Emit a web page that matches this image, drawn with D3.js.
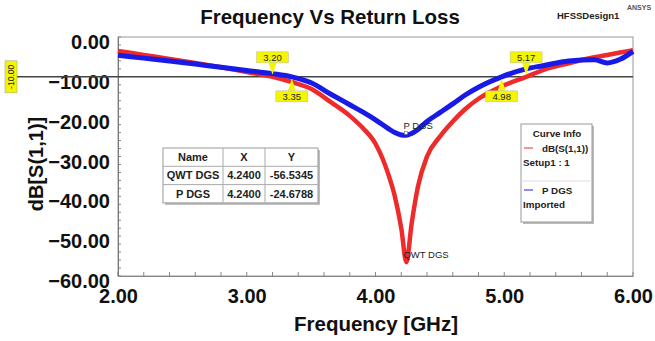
<!DOCTYPE html>
<html>
<head>
<meta charset="utf-8">
<script src="https://cdn.jsdelivr.net/npm/d3@7"></script>
<style>
  body { margin: 0; background: #fff; }
  svg { display: block; font-family: "Liberation Sans", Arial, sans-serif; }
</style>
</head>
<body>
<svg id="chart" width="655" height="341"></svg>
<script>
// Frequency vs return loss, two measured curves

// ----- Data -----
const freqGHz = [2.0, 2.2, 2.4, 2.6, 2.8, 3.0, 3.2, 3.35, 3.5, 3.65, 3.8, 3.9, 4.0, 4.1, 4.15, 4.2,
  4.24, 4.28, 4.33, 4.4, 4.5, 4.6, 4.7, 4.8, 4.98, 5.17, 5.3, 5.5, 5.7, 5.8, 5.9, 6.0];
const qwtDgs = [-3.5, -4.5, -5.5, -6.5, -7.6, -8.8, -10.0, -11.3, -13.0, -16.3, -19.8, -22.8, -26.8, -34.5, -40.0, -48.0,
  -56.53, -47.0, -37.5, -30.0, -25.0, -21.2, -18.0, -15.5, -12.4, -10.0, -8.3, -6.6, -5.1, -4.5, -3.9, -3.3];
const pDgs = [-4.6, -5.3, -6.0, -6.8, -7.6, -8.4, -9.2, -10.0, -11.5, -14.3, -17.0, -18.8, -20.8, -23.0, -24.0, -24.6,
  -24.68, -24.2, -23.2, -21.2, -19.0, -16.8, -14.5, -12.6, -10.0, -8.0, -7.2, -6.0, -5.7, -6.5, -5.6, -3.6];

const xTicks = [2, 3, 4, 5, 6];
const yTicks = [0, -10, -20, -30, -40, -50, -60];
const refLevel = -10;
const qwtMarkers = [3.20, 5.17];   // red crossings of -10 dB
const pdgsMarkers = [3.35, 4.98];  // blue crossings of -10 dB
const minFreq = 4.24;

const tableHeader = ["Name", "X", "Y"];
const tableNames = ["QWT DGS", "P DGS"];
const tableX = ["4.2400", "4.2400"];
const tableY = ["-56.5345", "-24.6788"];

// ----- Layout -----
const svg = d3.select("#chart");
const plot = { left: 118, right: 633, top: 37, bottom: 276 };

const x = d3.scaleLinear().domain([2, 6]).range([plot.left, plot.right]);
const y = d3.scaleLinear().domain([-60, 0]).range([plot.bottom, plot.top]);

const RED = "#ee2a2a";
const BLUE = "#1a1ae6";
const FONT = "Liberation Sans, Arial, sans-serif";

// Title and corner labels
svg.append("text")
  .attr("x", 330).attr("y", 24)
  .attr("text-anchor", "middle")
  .attr("font-size", 20.5).attr("font-weight", "bold").attr("fill", "#111")
  .text("Frequency Vs Return Loss");

svg.append("text")
  .attr("x", 557).attr("y", 19)
  .attr("font-size", 9.5).attr("font-weight", "bold").attr("fill", "#222")
  .text("HFSSDesign1");

svg.append("text")
  .attr("x", 627).attr("y", 10)
  .attr("font-size", 7).attr("font-weight", "bold").attr("fill", "#555")
  .text("ANSYS");

// Plot frame (top/right light)
svg.append("rect")
  .attr("x", plot.left).attr("y", plot.top)
  .attr("width", plot.right - plot.left).attr("height", plot.bottom - plot.top)
  .attr("fill", "none").attr("stroke", "#999").attr("stroke-width", 1);

// Minor ticks on the inside
const xMinor = d3.range(2, 6.001, 0.2);
svg.append("g").selectAll("line").data(xMinor).join("line")
  .attr("x1", d => x(d)).attr("x2", d => x(d))
  .attr("y1", plot.bottom).attr("y2", plot.bottom - 4)
  .attr("stroke", "#888");

const yMinor = d3.range(-60, 0.001, 2);
svg.append("g").selectAll("line").data(yMinor).join("line")
  .attr("x1", plot.left).attr("x2", plot.left + 3)
  .attr("y1", d => y(d)).attr("y2", d => y(d))
  .attr("stroke", "#888");

// Axes
const xAxis = svg.append("g")
  .attr("transform", `translate(0,${plot.bottom})`)
  .call(d3.axisBottom(x).tickValues(xTicks).tickFormat(d3.format(".2f")).tickSize(0).tickPadding(13));
xAxis.select(".domain").attr("stroke", "#888");
xAxis.selectAll("text")
  .attr("font-size", 20).attr("font-weight", "bold").attr("fill", "#111")
  .attr("font-family", FONT);

const yAxis = svg.append("g")
  .attr("transform", `translate(${plot.left},0)`)
  .call(d3.axisLeft(y).tickValues(yTicks).tickFormat(d3.format(".2f")).tickSize(0).tickPadding(8));
yAxis.select(".domain").attr("stroke", "#777");
yAxis.selectAll("text")
  .attr("font-size", 20).attr("font-weight", "bold").attr("fill", "#111")
  .attr("dy", "0.58em")
  .attr("font-family", FONT);

// Axis titles
svg.append("text")
  .attr("x", 376).attr("y", 331)
  .attr("text-anchor", "middle")
  .attr("font-size", 20.5).attr("font-weight", "bold").attr("fill", "#111")
  .text("Frequency [GHz]");

svg.append("text")
  .attr("transform", `translate(43,${164}) rotate(-90)`)
  .attr("text-anchor", "middle")
  .attr("font-size", 20).attr("font-weight", "bold").attr("fill", "#111")
  .text("dB[S(1,1)]");

// -10 dB reference line with its label
svg.append("line")
  .attr("x1", 17).attr("x2", plot.right)
  .attr("y1", y(refLevel)).attr("y2", y(refLevel))
  .attr("stroke", "#444").attr("stroke-width", 1.5);

const refLabel = svg.append("g")
  .attr("transform", `translate(11,${y(refLevel)}) rotate(-90)`);
refLabel.append("rect")
  .attr("x", -16).attr("y", -6).attr("width", 32).attr("height", 12)
  .attr("fill", "#f5f500").attr("stroke", "#999").attr("stroke-width", 0.5);
refLabel.append("text")
  .attr("text-anchor", "middle").attr("dy", "0.35em")
  .attr("font-size", 8.5).attr("fill", "#222")
  .text("-10.00");

// Curves
const line = d3.line()
  .x((d, i) => x(freqGHz[i]))
  .y(d => y(d))
  .curve(d3.curveMonotoneX);

svg.append("path")
  .datum(qwtDgs)
  .attr("d", line)
  .attr("fill", "none").attr("stroke", RED).attr("stroke-width", 4.5)
  .attr("stroke-linejoin", "round");

svg.append("path")
  .datum(pDgs)
  .attr("d", line)
  .attr("fill", "none").attr("stroke", BLUE).attr("stroke-width", 5)
  .attr("stroke-linejoin", "round");

// Crossing markers: red ones above the line, blue ones below
function drawMarker(f, above) {
  const cx = x(f), cy = y(refLevel);
  const g = svg.append("g");
  const boxY = above ? cy - 25 : cy + 14;
  const tipY = above ? cy - 2 : cy + 2;
  const baseY = above ? boxY + 11 : boxY;
  g.append("path")
    .attr("d", `M${cx - 4},${baseY} L${cx},${tipY} L${cx + 4},${baseY} Z`)
    .attr("fill", "#f5f500");
  g.append("rect")
    .attr("x", cx - 16).attr("y", boxY).attr("width", 32).attr("height", 11)
    .attr("fill", "#f5f500").attr("stroke", "#bbb").attr("stroke-width", 0.5);
  g.append("text")
    .attr("x", cx).attr("y", boxY + 9)
    .attr("text-anchor", "middle")
    .attr("font-size", 9.5).attr("fill", "#222")
    .text(f.toFixed(2));
}
qwtMarkers.forEach(f => drawMarker(f, true));
pdgsMarkers.forEach(f => drawMarker(f, false));

// Minimum labels
const qMin = d3.min(qwtDgs), pMin = d3.min(pDgs);
svg.append("text")
  .attr("x", x(minFreq) - 3).attr("y", y(pMin) - 6)
  .attr("font-size", 9.5).attr("fill", "#222")
  .text("P DGS");
svg.append("rect")
  .attr("x", x(minFreq) - 2).attr("y", y(pMin) - 4).attr("width", 3).attr("height", 3)
  .attr("fill", "#fff").attr("stroke", "#777").attr("stroke-width", 0.6);
svg.append("text")
  .attr("x", x(minFreq) - 3).attr("y", y(qMin) - 4)
  .attr("font-size", 9.5).attr("fill", "#222")
  .text("QWT DGS");

// Marker table
const tbl = svg.append("g").attr("transform", "translate(163,148)");
const colX = [0, 60, 102, 155];
const rowH = 18.3;
tbl.append("rect")
  .attr("x", 2).attr("y", 2).attr("width", colX[3]).attr("height", rowH * 3)
  .attr("fill", "#bbb");
tbl.append("rect")
  .attr("width", colX[3]).attr("height", rowH * 3)
  .attr("fill", "#fff").attr("stroke", "#999");
[1, 2].forEach(c => tbl.append("line")
  .attr("x1", colX[c]).attr("x2", colX[c]).attr("y1", 0).attr("y2", rowH * 3)
  .attr("stroke", "#aaa"));
[1, 2].forEach(r => tbl.append("line")
  .attr("x1", 0).attr("x2", colX[3]).attr("y1", rowH * r).attr("y2", rowH * r)
  .attr("stroke", "#aaa"));
const rows = [tableHeader].concat(tableNames.map((n, i) => [n, tableX[i], tableY[i]]));
rows.forEach((row, r) => {
  row.forEach((cell, c) => {
    tbl.append("text")
      .attr("x", (colX[c] + colX[c + 1]) / 2)
      .attr("y", rowH * r + 13)
      .attr("text-anchor", "middle")
      .attr("font-size", 11).attr("font-weight", "bold").attr("fill", "#222")
      .text(cell);
  });
});

// Curve Info legend
const leg = svg.append("g").attr("transform", "translate(521,124)");
leg.append("rect").attr("x", 2).attr("y", 2).attr("width", 71).attr("height", 98).attr("fill", "#bbb");
leg.append("rect").attr("width", 71).attr("height", 98).attr("fill", "#fff").attr("stroke", "#999");
leg.append("text").attr("x", 36).attr("y", 13).attr("text-anchor", "middle")
  .attr("font-size", 9.8).attr("font-weight", "bold").attr("fill", "#222").text("Curve Info");
leg.append("line").attr("x1", 3).attr("x2", 12).attr("y1", 24).attr("y2", 24).attr("stroke", RED);
leg.append("text").attr("x", 21).attr("y", 28)
  .attr("font-size", 9.8).attr("font-weight", "bold").attr("fill", "#222").text("dB(S(1,1))");
leg.append("text").attr("x", 2).attr("y", 42)
  .attr("font-size", 9.8).attr("font-weight", "bold").attr("fill", "#222").text("Setup1 : 1");
leg.append("line").attr("x1", 0).attr("x2", 71).attr("y1", 57).attr("y2", 57).attr("stroke", "#ddd");
leg.append("line").attr("x1", 3).attr("x2", 12).attr("y1", 66).attr("y2", 66).attr("stroke", BLUE);
leg.append("text").attr("x", 21).attr("y", 70)
  .attr("font-size", 9.8).attr("font-weight", "bold").attr("fill", "#222").text("P DGS");
leg.append("text").attr("x", 2).attr("y", 84)
  .attr("font-size", 9.8).attr("font-weight", "bold").attr("fill", "#222").text("Imported");
</script>
</body>
</html>
